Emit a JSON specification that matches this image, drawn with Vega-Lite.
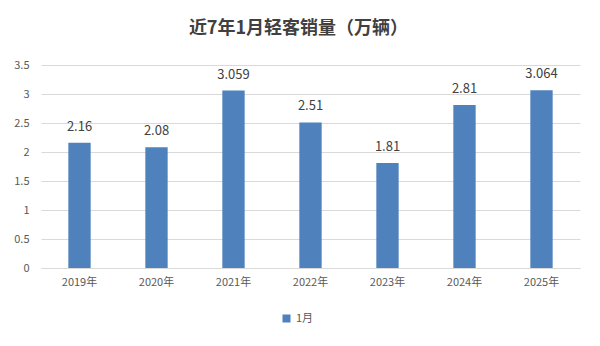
{
  "$schema": "https://vega.github.io/schema/vega-lite/v6.json",
  "autosize": {"type": "none"},
  "width": 539,
  "height": 203,
  "padding": {"left": 41, "top": 65, "right": 20, "bottom": 78},
  "background": "white",
  "title": {
    "text": "近7年1月轻客销量（万辆）",
    "font": "Noto Sans CJK SC",
    "fontSize": 18,
    "fontWeight": "bold",
    "color": "#404040",
    "anchor": "middle",
    "frame": "group",
    "dx": -12,
    "offset": 21
  },
  "data": {
    "values": [
      {"year": "2019年", "value": 2.16, "series": "1月"},
      {"year": "2020年", "value": 2.08, "series": "1月"},
      {"year": "2021年", "value": 3.059, "series": "1月"},
      {"year": "2022年", "value": 2.51, "series": "1月"},
      {"year": "2023年", "value": 1.81, "series": "1月"},
      {"year": "2024年", "value": 2.81, "series": "1月"},
      {"year": "2025年", "value": 3.064, "series": "1月"}
    ]
  },
  "encoding": {
    "x": {
      "field": "year",
      "type": "nominal",
      "sort": null,
      "scale": {"paddingInner": 0.71, "paddingOuter": 0.355},
      "axis": {
        "title": null,
        "labelAngle": 0,
        "labelFont": "Noto Sans CJK SC",
        "labelFontSize": 11,
        "labelColor": "#595959",
        "labelPadding": 8,
        "ticks": false,
        "domainColor": "#d9d9d9",
        "grid": false
      }
    },
    "y": {
      "field": "value",
      "type": "quantitative",
      "scale": {"domain": [0, 3.5]},
      "axis": {
        "title": null,
        "values": [0, 0.5, 1, 1.5, 2, 2.5, 3, 3.5],
        "format": "~g",
        "labelFont": "Noto Sans CJK SC",
        "labelFontSize": 11,
        "labelColor": "#595959",
        "labelPadding": 12,
        "ticks": false,
        "domain": false,
        "gridColor": "#d9d9d9"
      }
    }
  },
  "layer": [
    {
      "mark": {"type": "bar", "color": "#4F81BD"},
      "encoding": {
        "color": {
          "field": "series",
          "type": "nominal",
          "scale": {"range": ["#4F81BD"]},
          "legend": {
            "title": null,
            "orient": "none",
            "legendX": 240,
            "legendY": 248,
            "symbolType": "square",
            "symbolSize": 64,
            "labelFont": "Noto Sans CJK SC",
            "labelFontSize": 11,
            "labelColor": "#595959"
          }
        }
      }
    },
    {
      "mark": {
        "type": "text",
        "baseline": "bottom",
        "dy": -9,
        "font": "Noto Sans CJK SC",
        "fontSize": 13,
        "color": "#404040"
      },
      "encoding": {
        "text": {"field": "value", "type": "quantitative"}
      }
    }
  ],
  "config": {
    "view": {"stroke": null}
  }
}
